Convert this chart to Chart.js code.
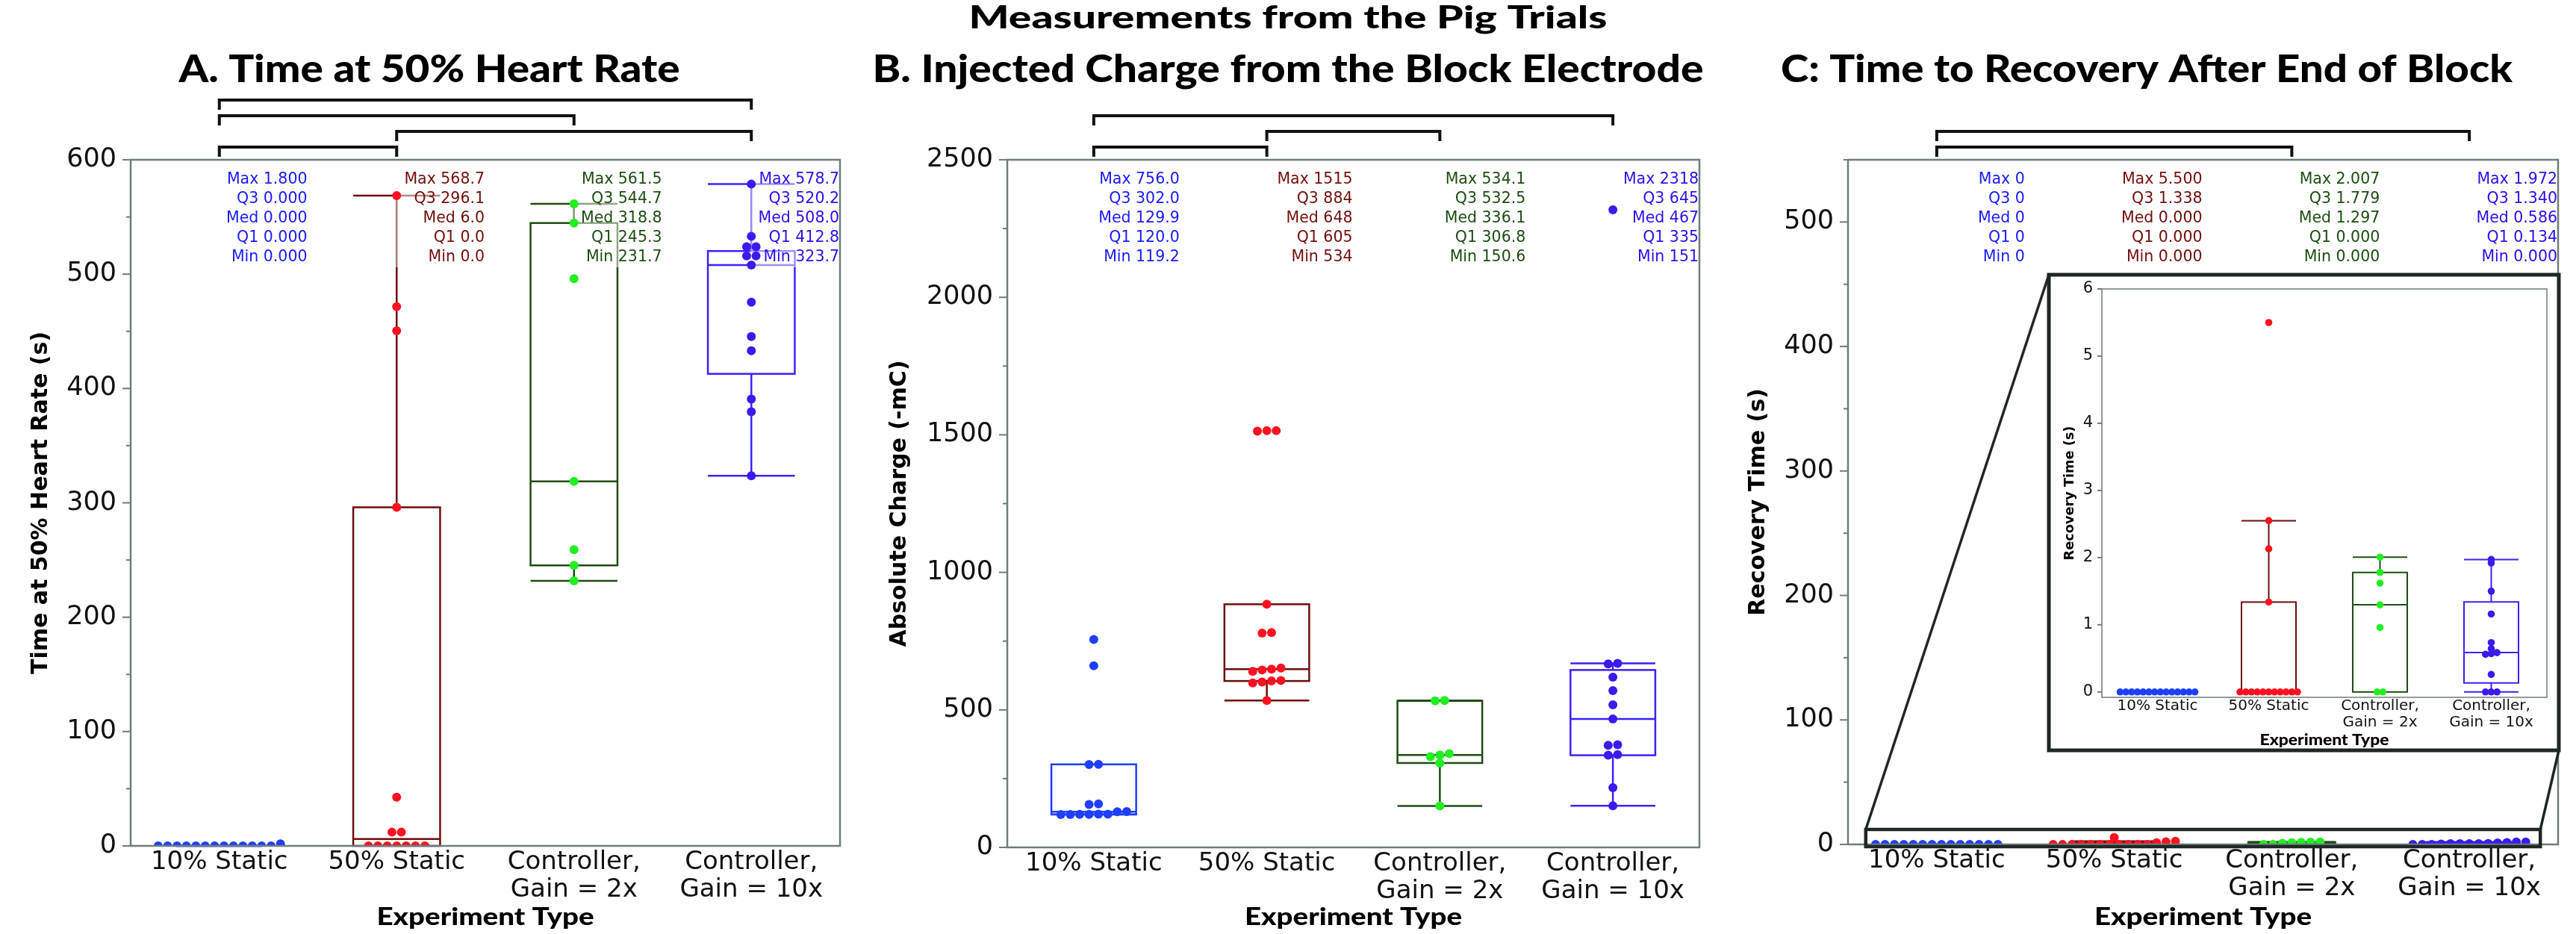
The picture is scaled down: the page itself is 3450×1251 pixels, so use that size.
<!DOCTYPE html>
<html>
<head>
<meta charset="utf-8">
<script src="https://cdn.jsdelivr.net/npm/chart.js@4.4.1/dist/chart.umd.min.js"></script>
<style>
html,body{margin:0;padding:0;background:#ffffff;}
#wrap{position:relative;width:3450px;height:1251px;overflow:hidden;background:#ffffff;}
#wrap canvas{position:absolute;left:0;top:0;}
</style>
</head>
<body>
<div id="wrap">
<canvas id="cA" width="3450" height="1251"></canvas>
<canvas id="cB" width="3450" height="1251"></canvas>
<canvas id="cC" width="3450" height="1251"></canvas>
<canvas id="cI" width="3450" height="1251"></canvas>
</div>
<script>
// ---------------- DATA ----------------
const categories = ['10% Static', '50% Static', ['Controller,', 'Gain = 2x'], ['Controller,', 'Gain = 10x']];
const statNames = ['Max', 'Q3', 'Med', 'Q1', 'Min'];

// Panel A: Time at 50% Heart Rate (s)
const timeA_static10 = [0, 0, 0, 0, 0, 0, 1.8, 0, 0, 0, 0, 0, 0, 0];
const timeA_static50 = [0, 0, 0, 0, 0, 0, 0, 12, 12, 42.6, 296.1, 450.5, 471.5, 568.7];
const timeA_gain2 = [231.7, 245.3, 259, 318.8, 496, 544.7, 561.5];
const timeA_gain10 = [323.7, 379.6, 390.7, 433, 445.5, 475.5, 508, 516, 516, 524, 524, 533, 578.7];
const statsA = [
  ['1.800', '0.000', '0.000', '0.000', '0.000'],
  ['568.7', '296.1', '6.0', '0.0', '0.0'],
  ['561.5', '544.7', '318.8', '245.3', '231.7'],
  ['578.7', '520.2', '508.0', '412.8', '323.7']
];
const yTicksA = [0, 100, 200, 300, 400, 500, 600];
const bracketsA = [[0, 1], [1, 3], [0, 2], [0, 3]];

// Panel B: Absolute Charge (-mC)
const chargeB_static10 = [119.2, 119.5, 120, 120, 120.5, 121, 129.5, 130.3, 156, 158, 301, 302, 660, 756];
const chargeB_static50 = [534, 598, 601, 605, 607, 640, 645, 648, 652, 779, 781, 884, 1513, 1515, 1515];
const chargeB_gain2 = [150.6, 306.8, 330, 336.1, 341, 532.5, 534.1];
const chargeB_gain10 = [151, 217, 335, 337, 371, 373, 467, 518.5, 570, 619, 667, 669, 2318];
const statsB = [
  ['756.0', '302.0', '129.9', '120.0', '119.2'],
  ['1515', '884', '648', '605', '534'],
  ['534.1', '532.5', '336.1', '306.8', '150.6'],
  ['2318', '645', '467', '335', '151']
];
const yTicksB = [0, 500, 1000, 1500, 2000, 2500];
const bracketsB = [[0, 1], [1, 2], [0, 3]];

// Panel C: Recovery Time (s)
const recC_static10 = [0, 0, 0, 0, 0, 0, 0, 0, 0, 0, 0, 0, 0, 0];
const recC_static50 = [0, 0, 0, 0, 0, 0, 0, 0, 0, 0, 0, 1.338, 2.13, 2.55, 5.5];
const recC_gain2 = [0, 0, 0.96, 1.297, 1.62, 1.779, 2.007];
const recC_gain10 = [0, 0, 0, 0.26, 0.56, 0.57, 0.586, 0.645, 0.735, 1.16, 1.5, 1.92, 1.972];
const statsC = [
  ['0', '0', '0', '0', '0'],
  ['5.500', '1.338', '0.000', '0.000', '0.000'],
  ['2.007', '1.779', '1.297', '0.000', '0.000'],
  ['1.972', '1.340', '0.586', '0.134', '0.000']
];
const yTicksC = [0, 100, 200, 300, 400, 500];
const yTicksInset = [0, 1, 2, 3, 4, 5, 6];
const bracketsC = [[0, 2], [0, 3]];

// colours
const pointColors = ['#1f3fff', '#ff1020', '#22ee22', '#3a1aee'];
const boxColors = ['#1f3fff', '#6e0c0c', '#1d4d12', '#3a22ff'];
const textColors = ['#1a1aff', '#730d0d', '#1d4d12', '#2a10ee'];

// ---------------- HELPERS ----------------
const PAGE_W = 3450, PAGE_H = 1251;
const GRAY = '#6e7c7c';
const INK = '#1e2626';

function swarm(series, area, yMin, yMax, threshPx, stepPx) {
  const ppu = (area.b - area.t) / (yMax - yMin);
  const cell = (area.r - area.l) / series.length;
  return series.map((vals, i) => {
    const order = vals.map((v, k) => k).sort((a, b) => vals[a] - vals[b]);
    const out = [];
    let g = [];
    const flush = () => {
      g.forEach((k, j) => out.push({ x: i + (j - (g.length - 1) / 2) * stepPx / cell, y: vals[k] }));
      g = [];
    };
    order.forEach(k => {
      if (g.length && (vals[k] - vals[g[0]]) * ppu > threshPx) flush();
      g.push(k);
    });
    flush();
    return out;
  });
}

function boxStats(vals, row) {
  const q3 = parseFloat(row[1]), med = parseFloat(row[2]), q1 = parseFloat(row[3]);
  const iqr = q3 - q1;
  const hiF = q3 + 1.5 * iqr, loF = q1 - 1.5 * iqr;
  const inside = vals.filter(v => v >= loF && v <= hiF);
  return { q1, q3, med, wHi: Math.max(q3, ...inside), wLo: Math.min(q1, ...inside) };
}

function fitSize(ctx, text, target, weight, family) {
  ctx.font = weight + ' 100px ' + family;
  return 100 * target / ctx.measureText(text).width;
}

// draw text at a given font size, stretched horizontally to a target width
function stretchText(ctx, text, cx, y, size, targetW, weight, family, baseline) {
  ctx.font = weight + ' ' + size + 'px ' + family;
  const w = ctx.measureText(text).width;
  const sx = targetW / w;
  ctx.save();
  ctx.translate(cx, y);
  ctx.scale(sx, 1);
  ctx.textAlign = 'center';
  ctx.textBaseline = baseline;
  ctx.fillText(text, 0, 0);
  ctx.restore();
}

function line(ctx, x0, y0, x1, y1) {
  ctx.beginPath(); ctx.moveTo(x0, y0); ctx.lineTo(x1, y1); ctx.stroke();
}

function decoPlugin(cfg) {
  return {
    id: 'deco_' + cfg.canvasId,
    beforeDraw(chart) {
      if (cfg.frame) {
        const ctx = chart.ctx, f = cfg.frame;
        ctx.save(); ctx.fillStyle = '#ffffff'; ctx.fillRect(f.l, f.t, f.r - f.l, f.b - f.t); ctx.restore();
      }
    },
    beforeDatasetsDraw(chart) {
      const ctx = chart.ctx, xs = chart.scales.x, ys = chart.scales.y, ca = chart.chartArea;
      ctx.save();
      ctx.lineWidth = cfg.boxLW;
      ctx.lineCap = 'butt';
      cfg.series.forEach((vals, i) => {
        const b = boxStats(vals, cfg.stats[i]);
        const x0 = xs.getPixelForValue(i - 0.245), x1 = xs.getPixelForValue(i + 0.245), xc = xs.getPixelForValue(i);
        const yq1 = ys.getPixelForValue(b.q1), yq3 = ys.getPixelForValue(b.q3), ym = ys.getPixelForValue(b.med);
        ctx.strokeStyle = boxColors[i];
        ctx.strokeRect(x0, yq3, x1 - x0, yq1 - yq3);
        line(ctx, x0, ym, x1, ym);
        if (b.wHi > b.q3) {
          const yw = ys.getPixelForValue(b.wHi);
          line(ctx, xc, yq3, xc, yw); line(ctx, x0, yw, x1, yw);
        }
        if (b.wLo < b.q1) {
          const yw = ys.getPixelForValue(b.wLo);
          line(ctx, xc, yq1, xc, yw); line(ctx, x0, yw, x1, yw);
        }
      });
      if (cfg.showStats) {
        ctx.fillStyle = 'rgba(255,255,255,0.5)';
        cfg.series.forEach((vals, i) => {
          const xc = xs.getPixelForValue(i), xr = xs.getPixelForValue(i + 0.5);
          const y0 = ca.top + 27 - 13;
          ctx.fillRect(xc - 1, y0, xr - xc + 1, 26 * 4 + 26);
        });
      }
      ctx.restore();
    },
    afterDatasetsDraw(chart) {
      const ctx = chart.ctx, xs = chart.scales.x, ys = chart.scales.y, ca = chart.chartArea;
      ctx.save();
      // plot border
      ctx.strokeStyle = GRAY; ctx.lineWidth = cfg.borderLW;
      ctx.strokeRect(ca.left, ca.top, ca.right - ca.left, ca.bottom - ca.top);
      // y ticks (major + minor)
      ctx.lineWidth = 2;
      if (cfg.minorStep) {
        for (let v = 0; v <= cfg.yMax + 1e-9; v += cfg.minorStep) {
          const y = ys.getPixelForValue(v);
          const len = cfg.yTicks.includes(v) ? cfg.tickLen : cfg.tickLen * 0.55;
          line(ctx, ca.left - len, y, ca.left, y);
        }
      } else {
        cfg.yTicks.forEach(v => { const y = ys.getPixelForValue(v); line(ctx, ca.left - cfg.tickLen, y, ca.left, y); });
      }
      // stats text
      if (cfg.showStats) {
        ctx.font = '20.5px "DejaVu Sans"';
        ctx.textAlign = 'right'; ctx.textBaseline = 'middle';
        cfg.stats.forEach((row, i) => {
          const xr = xs.getPixelForValue(i + 0.5) - 1;
          ctx.fillStyle = textColors[i];
          row.forEach((s, j) => ctx.fillText(statNames[j] + ' ' + s, xr, ca.top + 27 + 26 * j));
        });
      }
      // significance brackets
      if (cfg.brackets) {
        ctx.strokeStyle = '#111111'; ctx.lineWidth = 4; ctx.lineJoin = 'miter';
        cfg.brackets.forEach(([a, b], k) => {
          const y = ca.top - 17 - 21 * k, x0 = xs.getPixelForValue(a), x1 = xs.getPixelForValue(b);
          ctx.beginPath(); ctx.moveTo(x0, y + 13); ctx.lineTo(x0, y); ctx.lineTo(x1, y); ctx.lineTo(x1, y + 13); ctx.stroke();
        });
      }
      ctx.fillStyle = '#000000';
      // panel title
      if (cfg.title) stretchText(ctx, cfg.title, cfg.titleCx, 110, 51, cfg.titleW, 900, 'Lato', 'alphabetic');
      if (cfg.mainTitle) stretchText(ctx, cfg.mainTitle, 1725, 38, 42, 855, 900, 'Lato', 'alphabetic');
      // x axis title
      stretchText(ctx, 'Experiment Type', (ca.left + ca.right) / 2, cfg.xTitleY, cfg.xTitleSize, cfg.xTitleW, 900, 'Lato', 'middle');
      // y axis title
      {
        const s = cfg.yTitleW ? fitSize(ctx, cfg.yTitle, cfg.yTitleW, 'bold', '"DejaVu Sans"') : 30;
        ctx.font = 'bold ' + s + 'px "DejaVu Sans"';
        ctx.save();
        ctx.translate(cfg.yTitleX, (ca.top + ca.bottom) / 2);
        ctx.rotate(-Math.PI / 2);
        ctx.textAlign = 'center'; ctx.textBaseline = 'middle';
        ctx.fillText(cfg.yTitle, 0, 0);
        ctx.restore();
      }
      // zoom box + connectors (panel C)
      if (cfg.zoomBox) {
        const z = cfg.zoomBox, f = cfg.linkFrame;
        const zx0 = xs.getPixelForValue(z.x0), zx1 = xs.getPixelForValue(z.x1);
        const zy0 = ys.getPixelForValue(z.y0), zy1 = ys.getPixelForValue(z.y1);
        ctx.strokeStyle = INK; ctx.lineWidth = 4.5;
        ctx.strokeRect(zx0, zy1, zx1 - zx0, zy0 - zy1);
        ctx.lineWidth = 3.5;
        line(ctx, zx0, zy1, f.l, f.t);
        line(ctx, zx1, zy1, f.r, f.b);
      }
      // inset frame
      if (cfg.frame) {
        const f = cfg.frame;
        ctx.strokeStyle = INK; ctx.lineWidth = 5;
        ctx.strokeRect(f.l, f.t, f.r - f.l, f.b - f.t);
      }
      ctx.restore();
    }
  };
}

function buildChart(cfg) {
  const pts = swarm(cfg.series, cfg.area, cfg.yMin, cfg.yMax, cfg.swarmThresh, cfg.swarmStep);
  const yScaleW = cfg.yScaleW, xScaleH = 100;
  return new Chart(document.getElementById(cfg.canvasId), {
    type: 'scatter',
    data: {
      datasets: pts.map((d, i) => ({
        data: d, backgroundColor: pointColors[i], borderWidth: 0, pointBorderWidth: 0,
        pointRadius: cfg.r, pointHoverRadius: cfg.r, clip: cfg.clip
      }))
    },
    options: {
      responsive: false, animation: false, devicePixelRatio: 1, events: [],
      layout: { padding: { left: cfg.area.l - yScaleW, right: PAGE_W - cfg.area.r, top: cfg.area.t, bottom: PAGE_H - cfg.area.b - xScaleH } },
      plugins: { legend: { display: false }, tooltip: { enabled: false }, title: { display: false } },
      scales: {
        x: {
          type: 'linear', position: 'bottom', min: -0.5, max: categories.length - 0.5,
          afterBuildTicks: s => { s.ticks = categories.map((c, i) => ({ value: i })); },
          afterFit: s => { s.height = xScaleH; },
          ticks: {
            autoSkip: false, maxRotation: 0, minRotation: 0, padding: cfg.xPad, color: '#111111',
            font: { family: 'DejaVu Sans', size: cfg.xFont, lineHeight: cfg.xLine },
            callback: (v, idx) => categories[idx]
          },
          grid: { display: false, drawTicks: false, tickLength: 0 }, border: { display: false }
        },
        y: {
          type: 'linear', position: 'left', min: cfg.yMin, max: cfg.yMax,
          afterBuildTicks: s => { s.ticks = cfg.yTicks.map(v => ({ value: v })); },
          afterFit: s => { s.width = yScaleW; },
          ticks: {
            autoSkip: false, padding: cfg.yPad, color: '#111111',
            font: { family: 'DejaVu Sans', size: cfg.yFont },
            callback: v => String(v)
          },
          grid: { display: false, drawTicks: false, tickLength: 0 }, border: { display: false }
        }
      }
    },
    plugins: [decoPlugin(cfg)]
  });
}

const mainCommon = {
  r: 6, swarmThresh: 6, swarmStep: 12.6, clip: 0, boxLW: 2.5, borderLW: 2.5, tickLen: 11, yScaleW: 140,
  xFont: 34, xLine: 1.1, xPad: 3, yFont: 35, yPad: 19, xTitleY: 1228, xTitleW: 291, xTitleSize: 33, showStats: true
};

buildChart(Object.assign({}, mainCommon, {
  canvasId: 'cA', area: { l: 175, r: 1125, t: 214, b: 1133 }, yMin: 0, yMax: 600, yTicks: yTicksA, minorStep: 50,
  series: [timeA_static10, timeA_static50, timeA_gain2, timeA_gain10], stats: statsA, brackets: bracketsA,
  title: 'A. Time at 50% Heart Rate', titleCx: 575, titleW: 671,
  yTitle: 'Time at 50% Heart Rate (s)', yTitleX: 55
}));

buildChart(Object.assign({}, mainCommon, {
  canvasId: 'cB', area: { l: 1349, r: 2276, t: 214, b: 1135 }, yMin: 0, yMax: 2500, yTicks: yTicksB, minorStep: 250,
  series: [chargeB_static10, chargeB_static50, chargeB_gain2, chargeB_gain10], stats: statsB, brackets: bracketsB,
  title: 'B. Injected Charge from the Block Electrode', titleCx: 1725, titleW: 1113,
  mainTitle: 'Measurements from the Pig Trials',
  yTitle: 'Absolute Charge (-mC)', yTitleX: 1205
}));

const insetFrame = { l: 2744, t: 368, r: 3427, b: 1005 };

buildChart(Object.assign({}, mainCommon, {
  canvasId: 'cC', area: { l: 2475, r: 3426, t: 214, b: 1131 }, yMin: 0, yMax: 550, yTicks: yTicksC, minorStep: 50,
  series: [recC_static10, recC_static50, recC_gain2, recC_gain10], stats: statsC, brackets: bracketsC,
  title: 'C: Time to Recovery After End of Block', titleCx: 2875, titleW: 980,
  yTitle: 'Recovery Time (s)', yTitleX: 2355,
  zoomBox: { x0: -0.4, x1: 3.4, y0: -1.8, y1: 12 }, linkFrame: insetFrame
}));

buildChart({
  canvasId: 'cI', area: { l: 2815, r: 3411, t: 387, b: 934 }, yMin: -0.08, yMax: 6, yTicks: yTicksInset, minorStep: 0,
  series: [recC_static10, recC_static50, recC_gain2, recC_gain10], stats: statsC, brackets: null,
  r: 4.8, swarmThresh: 4, swarmStep: 7.7, clip: 0, boxLW: 2, borderLW: 1.5, tickLen: 6, yScaleW: 60,
  xFont: 20, xLine: 1.1, xPad: 1, yFont: 21, yPad: 12, xTitleY: 992, xTitleW: 173, xTitleSize: 20, showStats: false,
  yTitle: 'Recovery Time (s)', yTitleX: 2772, yTitleW: 180, frame: insetFrame
});
</script>
</body>
</html>
